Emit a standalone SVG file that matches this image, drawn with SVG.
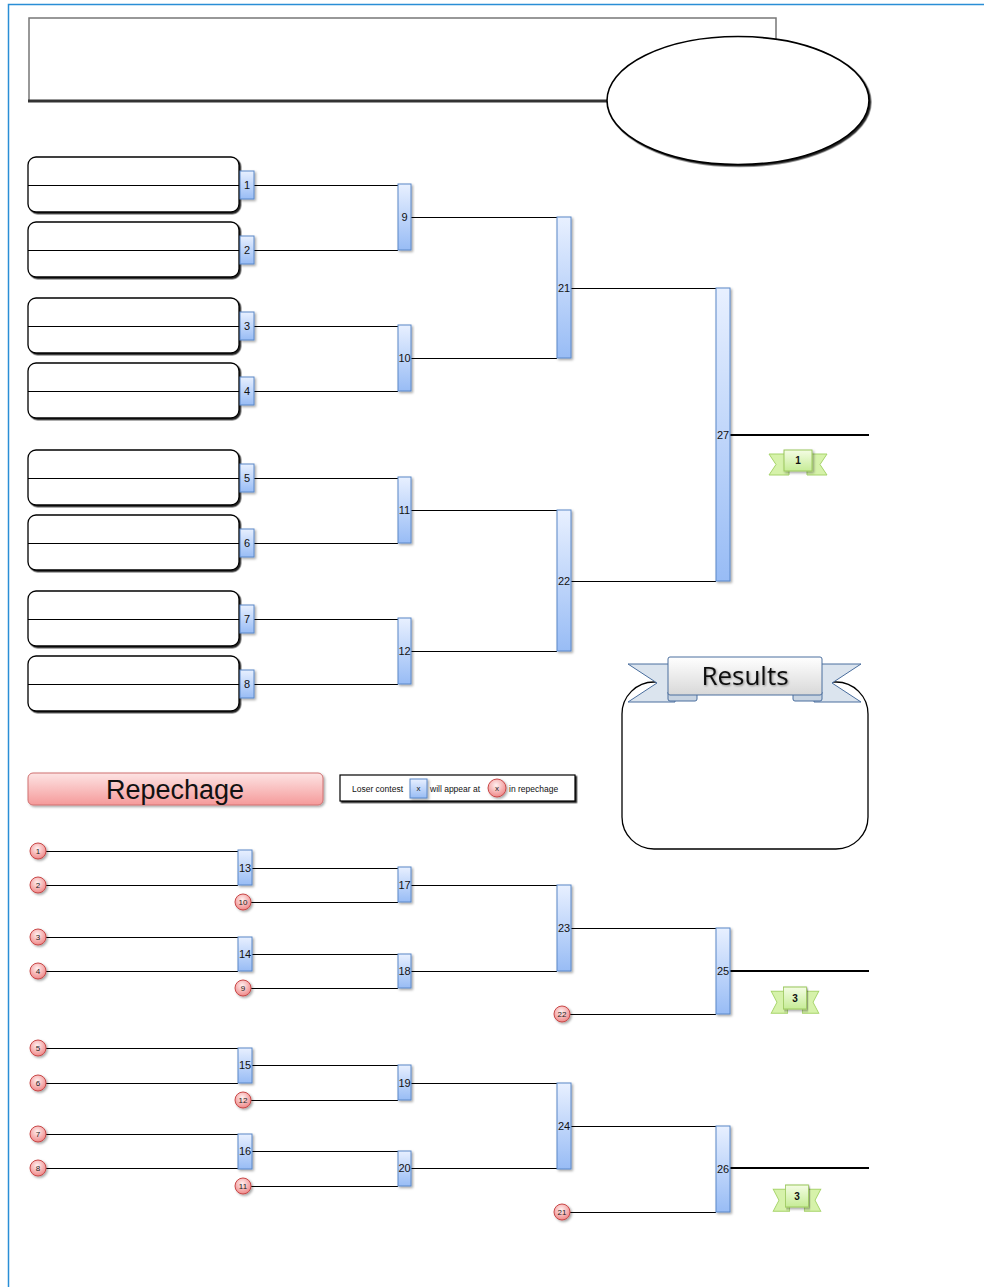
<svg xmlns="http://www.w3.org/2000/svg" width="984" height="1287" viewBox="0 0 984 1287">
<defs>
<linearGradient id="gb" x1="0" y1="0" x2="0" y2="1"><stop offset="0" stop-color="#e8f0ff"/><stop offset="1" stop-color="#98bcf5"/></linearGradient>
<radialGradient id="gr" cx="0.45" cy="0.35" r="0.7"><stop offset="0" stop-color="#fff0f0"/><stop offset="1" stop-color="#ee8080"/></radialGradient>
<linearGradient id="gp" x1="0" y1="0" x2="0" y2="1"><stop offset="0" stop-color="#fde4e4"/><stop offset="1" stop-color="#f59a9a"/></linearGradient>
<linearGradient id="gg" x1="0" y1="0" x2="0" y2="1"><stop offset="0" stop-color="#f4fce4"/><stop offset="1" stop-color="#c6ec96"/></linearGradient>
<linearGradient id="gw" x1="0" y1="0" x2="0" y2="1"><stop offset="0" stop-color="#ffffff"/><stop offset="1" stop-color="#d8d8d8"/></linearGradient>
<filter id="sh" x="-20%" y="-20%" width="150%" height="150%"><feDropShadow dx="1.5" dy="1.5" stdDeviation="0.8" flood-color="#000" flood-opacity="0.35"/></filter>
<filter id="sh2" x="-10%" y="-10%" width="130%" height="130%"><feDropShadow dx="1.5" dy="1.5" stdDeviation="0.6" flood-color="#000" flood-opacity="0.85"/></filter>
<filter id="ts" x="-10%" y="-10%" width="130%" height="130%"><feDropShadow dx="1" dy="1" stdDeviation="0.8" flood-color="#000" flood-opacity="0.4"/></filter>
<g id="rib">
<path d="M-29,4 L-9,4 L-9,25 L-29,25 L-22,14.5 Z" fill="#d6f2aa" stroke="#a6d46a" stroke-width="1"/>
<path d="M29,4 L9,4 L9,25 L29,25 L22,14.5 Z" fill="#d6f2aa" stroke="#a6d46a" stroke-width="1"/>
<rect x="-14" y="0" width="28" height="21" fill="url(#gg)" stroke="#9cc85e" stroke-width="1" filter="url(#sh)"/>
</g>
</defs>
<style>
.m{fill:url(#gb);stroke:#5a88c8;stroke-width:1;filter:url(#sh)}
.c{fill:url(#gr);stroke:#c84848;stroke-width:1;filter:url(#sh)}
.p{fill:#fff;stroke:#000;stroke-width:1.3;filter:url(#sh2)}
.l{stroke:#000;stroke-width:1;fill:none;shape-rendering:crispEdges}
.lt{stroke:#000;stroke-width:2;fill:none;shape-rendering:crispEdges}
.t{font-family:"Liberation Sans",Arial,sans-serif;font-size:11px;fill:#111;text-anchor:middle;dominant-baseline:central}
.ct{font-family:"Liberation Sans",Arial,sans-serif;font-size:8px;fill:#222;text-anchor:middle;dominant-baseline:central}
.rt{font-family:"Liberation Sans",Arial,sans-serif;font-size:10px;font-weight:bold;fill:#111;text-anchor:middle;dominant-baseline:central}
.lg{font-family:"Liberation Sans",Arial,sans-serif;font-size:8.5px;fill:#111;dominant-baseline:central}
</style>
<rect width="984" height="1287" fill="#fff"/>
<path d="M8.5,1287 L8.5,4.5 L984,4.5" fill="none" stroke="#2a8ed6" stroke-width="1.5"/>

<g id="header">
<path d="M29,101 L29,18 L776,18 L776,40" fill="#fff" stroke="#777" stroke-width="1.5"/>
<line x1="28" y1="101" x2="620" y2="101" stroke="#333" stroke-width="3"/>
</g>
<g id="logo">
<ellipse cx="738" cy="100.5" rx="131" ry="64" fill="#fff" stroke="#000" stroke-width="1.6" filter="url(#sh2)"/>
</g>

<g id="connectors">
<path class="l" d="M254,185H398M254,250H398M254,326H398M254,391H398M254,478H398M254,543H398M254,619H398M254,684H398"/>
<path class="l" d="M411,217H557M411,358H557M411,510H557M411,651H557"/>
<path class="l" d="M571,288H716M571,581H716"/>
<path class="lt" d="M730,435H869"/>
<path class="l" d="M46,851H238M46,885H238M46,937H238M46,971H238M46,1048H238M46,1083H238M46,1134H238M46,1168H238"/>
<path class="l" d="M252,868H398M252,954H398M252,1065H398M252,1151H398"/>
<path class="l" d="M251,902H398M251,988H398M251,1100H398M251,1186H398"/>
<path class="l" d="M411,885H557M411,971H557M411,1083H557M411,1168H557"/>
<path class="l" d="M571,928H716M571,1126H716M570,1014H716M570,1212H716"/>
<path class="lt" d="M730,971H869M730,1168H869"/>
</g>

<g id="players">
<rect class="p" x="28" y="157" width="211" height="55" rx="8"/>
<rect class="p" x="28" y="222" width="211" height="55" rx="8"/>
<rect class="p" x="28" y="298" width="211" height="55" rx="8"/>
<rect class="p" x="28" y="363" width="211" height="55" rx="8"/>
<rect class="p" x="28" y="450" width="211" height="55" rx="8"/>
<rect class="p" x="28" y="515" width="211" height="55" rx="8"/>
<rect class="p" x="28" y="591" width="211" height="55" rx="8"/>
<rect class="p" x="28" y="656" width="211" height="55" rx="8"/>
<path class="l" d="M28,185H240M28,250H240M28,326H240M28,391H240M28,478H240M28,543H240M28,619H240M28,684H240"/>
</g>

<g id="m1"><rect class="m" x="240" y="171" width="14" height="28"/><text class="t" x="247" y="185">1</text></g>
<g id="m2"><rect class="m" x="240" y="236" width="14" height="28"/><text class="t" x="247" y="250">2</text></g>
<g id="m3"><rect class="m" x="240" y="312" width="14" height="28"/><text class="t" x="247" y="326">3</text></g>
<g id="m4"><rect class="m" x="240" y="377" width="14" height="28"/><text class="t" x="247" y="391">4</text></g>
<g id="m5"><rect class="m" x="240" y="464" width="14" height="28"/><text class="t" x="247" y="478">5</text></g>
<g id="m6"><rect class="m" x="240" y="529" width="14" height="28"/><text class="t" x="247" y="543">6</text></g>
<g id="m7"><rect class="m" x="240" y="605" width="14" height="28"/><text class="t" x="247" y="619">7</text></g>
<g id="m8"><rect class="m" x="240" y="670" width="14" height="28"/><text class="t" x="247" y="684">8</text></g>
<g id="m9"><rect class="m" x="398" y="184" width="13" height="66"/><text class="t" x="404.5" y="217">9</text></g>
<g id="m10"><rect class="m" x="398" y="325" width="13" height="66"/><text class="t" x="404.5" y="358">10</text></g>
<g id="m11"><rect class="m" x="398" y="477" width="13" height="66"/><text class="t" x="404.5" y="510">11</text></g>
<g id="m12"><rect class="m" x="398" y="618" width="13" height="66"/><text class="t" x="404.5" y="651">12</text></g>
<g id="m21"><rect class="m" x="557" y="217" width="14" height="141"/><text class="t" x="564" y="288">21</text></g>
<g id="m22"><rect class="m" x="557" y="510" width="14" height="141"/><text class="t" x="564" y="581">22</text></g>
<g id="m27"><rect class="m" x="716" y="288" width="14" height="293"/><text class="t" x="723" y="434.5">27</text></g>

<g id="first"><use href="#rib" x="798" y="450"/><text class="rt" x="798" y="460.5">1</text></g>

<g id="results">
<rect x="622" y="682" width="246" height="167" rx="32" fill="#fff" stroke="#000" stroke-width="1.3"/>
<path d="M628,664 L675,664 L675,702 L628,702 L657,683 Z" fill="#dbe4ee" stroke="#4a6e9e" stroke-width="1"/>
<path d="M861,664 L814,664 L814,702 L861,702 L832,683 Z" fill="#dbe4ee" stroke="#4a6e9e" stroke-width="1"/>
<path d="M668,692 L697,692 L697,699 Q697,701 695,701 L670,701 Q668,701 668,699 Z" fill="#c8d4e2" stroke="#4a6e9e" stroke-width="1"/>
<path d="M793,692 L822,692 L822,699 Q822,701 820,701 L795,701 Q793,701 793,699 Z" fill="#c8d4e2" stroke="#4a6e9e" stroke-width="1"/>
<rect x="668" y="657" width="154" height="38" rx="2" fill="url(#gw)" stroke="#4a6e9e" stroke-width="1"/>
<text x="745" y="685" font-family="'Open Sans','Liberation Sans',sans-serif" font-size="26" fill="#111" text-anchor="middle" filter="url(#ts)">Results</text>
</g>

<g id="repechage">
<rect x="28" y="773" width="295" height="32" rx="5" fill="url(#gp)" stroke="#d07070" stroke-width="1" filter="url(#sh)"/>
<text x="175" y="799" font-family="'Liberation Sans',Arial,sans-serif" font-size="27" fill="#111" text-anchor="middle">Repechage</text>
</g>

<g id="legend">
<rect x="340" y="775" width="235" height="26" fill="#fff" stroke="#000" stroke-width="1.2" filter="url(#sh2)"/>
<text class="lg" x="352" y="788.5">Loser contest</text>
<rect class="m" x="410" y="779" width="17" height="19"/>
<text class="ct" x="418.5" y="788.5">x</text>
<text class="lg" x="430" y="788.5">will appear at</text>
<circle class="c" cx="497" cy="788" r="9"/>
<text class="ct" x="497" y="788.5">x</text>
<text class="lg" x="509" y="788.5">in repechage</text>
</g>

<g id="c1"><circle class="c" cx="38" cy="851" r="8"/><text class="ct" x="38" y="851">1</text></g>
<g id="c2"><circle class="c" cx="38" cy="885" r="8"/><text class="ct" x="38" y="885">2</text></g>
<g id="c3"><circle class="c" cx="38" cy="937" r="8"/><text class="ct" x="38" y="937">3</text></g>
<g id="c4"><circle class="c" cx="38" cy="971" r="8"/><text class="ct" x="38" y="971">4</text></g>
<g id="c5"><circle class="c" cx="38" cy="1048" r="8"/><text class="ct" x="38" y="1048">5</text></g>
<g id="c6"><circle class="c" cx="38" cy="1083" r="8"/><text class="ct" x="38" y="1083">6</text></g>
<g id="c7"><circle class="c" cx="38" cy="1134" r="8"/><text class="ct" x="38" y="1134">7</text></g>
<g id="c8"><circle class="c" cx="38" cy="1168" r="8"/><text class="ct" x="38" y="1168">8</text></g>
<g id="c10"><circle class="c" cx="243" cy="902" r="8"/><text class="ct" x="243" y="902">10</text></g>
<g id="c9"><circle class="c" cx="243" cy="988" r="8"/><text class="ct" x="243" y="988">9</text></g>
<g id="c12"><circle class="c" cx="243" cy="1100" r="8"/><text class="ct" x="243" y="1100">12</text></g>
<g id="c11"><circle class="c" cx="243" cy="1186" r="8"/><text class="ct" x="243" y="1186">11</text></g>
<g id="c22"><circle class="c" cx="562" cy="1014" r="8"/><text class="ct" x="562" y="1014">22</text></g>
<g id="c21"><circle class="c" cx="562" cy="1212" r="8"/><text class="ct" x="562" y="1212">21</text></g>

<g id="m13"><rect class="m" x="238" y="850" width="14" height="35"/><text class="t" x="245" y="868">13</text></g>
<g id="m14"><rect class="m" x="238" y="937" width="14" height="34"/><text class="t" x="245" y="954">14</text></g>
<g id="m15"><rect class="m" x="238" y="1048" width="14" height="35"/><text class="t" x="245" y="1065">15</text></g>
<g id="m16"><rect class="m" x="238" y="1134" width="14" height="35"/><text class="t" x="245" y="1151">16</text></g>
<g id="m17"><rect class="m" x="398" y="867" width="13" height="35"/><text class="t" x="404.5" y="885">17</text></g>
<g id="m18"><rect class="m" x="398" y="954" width="13" height="34"/><text class="t" x="404.5" y="971">18</text></g>
<g id="m19"><rect class="m" x="398" y="1065" width="13" height="35"/><text class="t" x="404.5" y="1083">19</text></g>
<g id="m20"><rect class="m" x="398" y="1151" width="13" height="35"/><text class="t" x="404.5" y="1168">20</text></g>
<g id="m23"><rect class="m" x="557" y="885" width="14" height="86"/><text class="t" x="564" y="928">23</text></g>
<g id="m24"><rect class="m" x="557" y="1083" width="14" height="86"/><text class="t" x="564" y="1126">24</text></g>
<g id="m25"><rect class="m" x="716" y="928" width="14" height="86"/><text class="t" x="723" y="971">25</text></g>
<g id="m26"><rect class="m" x="716" y="1126" width="14" height="86"/><text class="t" x="723" y="1169">26</text></g>

<g id="third1"><use href="#rib" transform="translate(795,987) scale(0.82,1.05)"/><text class="rt" x="795" y="998">3</text></g>
<g id="third2"><use href="#rib" transform="translate(797,1185) scale(0.82,1.05)"/><text class="rt" x="797" y="1196">3</text></g>
</svg>
